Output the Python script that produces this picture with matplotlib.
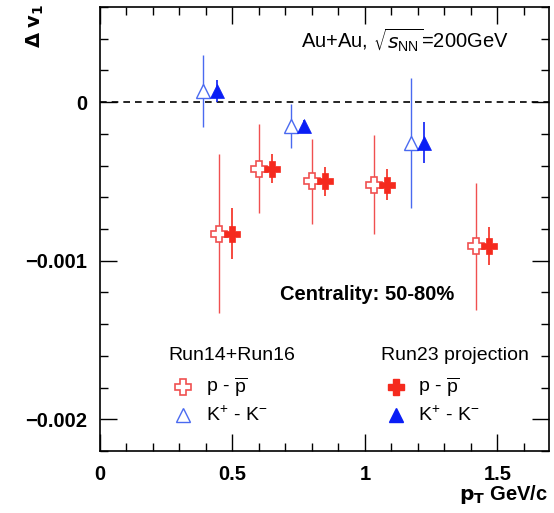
import matplotlib
matplotlib.use("Agg")
import matplotlib.pyplot as plt
from matplotlib.ticker import MultipleLocator, FixedFormatter, FixedLocator

plt.rcParams['font.family'] = ['Liberation Sans', 'DejaVu Sans']

# Run14+Run16 measurements
p_pt_old = [0.45, 0.60, 0.80, 1.035, 1.42]
p_dv1_old = [-0.00083, -0.00042, -0.00050, -0.00052, -0.00091]
p_err_old = [0.00050, 0.00028, 0.00027, 0.00031, 0.00040]
k_pt_old = [0.39, 0.72, 1.175]
k_dv1_old = [0.00007, -0.00015, -0.000255]
k_err_old = [0.000225, 0.00014, 0.00041]

# Run23 projection
p_pt_new = [0.50, 0.65, 0.85, 1.085, 1.47]
p_dv1_new = [-0.00083, -0.00042, -0.00050, -0.00052, -0.00091]
p_err_new = [0.00016, 0.00009, 0.00009, 0.00010, 0.00012]
k_pt_new = [0.443, 0.77, 1.223]
k_dv1_new = [0.00007, -0.00015, -0.000255]
k_err_new = [0.00007, 0.00004, 0.00013]

x_ticks = [0, 0.5, 1, 1.5]
x_tick_labels = ["0", "0.5", "1", "1.5"]
y_ticks = [0, -0.001, -0.002]
y_tick_labels = ["0", "\u22120.001", "\u22120.002"]

fig = plt.figure(figsize=(5.54, 5.13), dpi=100)
ax = fig.add_axes([100/554, 1-451/513, 449/554, 444/513])

red_open = "#f05050"
blue_open = "#4a6af0"
red_fill = "#f52a1e"
blue_fill = "#0a1ef5"

ax.axhline(0, color="black", ls=(0, (4, 3)), lw=1.2, zorder=1)

ax.errorbar(p_pt_old, p_dv1_old, yerr=p_err_old, fmt="P", ms=12,
            mfc="white", mec=red_open, mew=1.2, ecolor=red_open, elinewidth=1.0,
            capsize=0, zorder=3)
ax.errorbar(k_pt_old, k_dv1_old, yerr=k_err_old, fmt="^", ms=10,
            mfc="white", mec=blue_open, mew=1.0, ecolor=blue_open, elinewidth=1.0,
            capsize=0, zorder=3)
ax.errorbar(p_pt_new, p_dv1_new, yerr=p_err_new, fmt="P", ms=12,
            mfc=red_fill, mec=red_fill, mew=0.5, ecolor=red_fill, elinewidth=1.2,
            capsize=0, zorder=4)
ax.errorbar(k_pt_new, k_dv1_new, yerr=k_err_new, fmt="^", ms=10,
            mfc=blue_fill, mec=blue_fill, mew=0.5, ecolor=blue_fill, elinewidth=1.2,
            capsize=0, zorder=4)

ax.set_xlim(0, 1.695)
ax.set_ylim(-0.0022, 0.0006)

ax.xaxis.set_major_locator(FixedLocator(x_ticks))
ax.xaxis.set_major_formatter(FixedFormatter(x_tick_labels))
ax.xaxis.set_minor_locator(MultipleLocator(0.1))
ax.yaxis.set_major_locator(FixedLocator(y_ticks))
ax.yaxis.set_major_formatter(FixedFormatter(y_tick_labels))
ax.yaxis.set_minor_locator(MultipleLocator(0.0002))

ax.tick_params(which="both", direction="in", top=True, right=True, width=1.0)
ax.tick_params(which="major", length=12, labelsize=14.5)
ax.tick_params(axis="x", which="major", pad=10)
ax.tick_params(axis="y", which="major", pad=9)
ax.tick_params(which="minor", length=6)
for lab in ax.get_xticklabels() + ax.get_yticklabels():
    lab.set_fontweight("bold")
for s in ax.spines.values():
    s.set_linewidth(1.2)

fig.text(35/554, 1-26/513, r"$\mathbf{\Delta}$ $\mathbf{v_1}$", rotation=90,
         fontsize=14, fontweight="bold", ha="center", va="center")
fig.text(548/554, 1-495/513, r"$\mathbf{p_T}$ GeV/c", fontsize=14.5,
         fontweight="bold", ha="right", va="center")

ax.text(0.909, 0.925, r"Au+Au, $\sqrt{s_\mathregular{NN}}$=200GeV",
        transform=ax.transAxes, ha="right", va="center", fontsize=14.5)
ax.text(0.788, 0.353, "Centrality: 50-80%", transform=ax.transAxes,
        ha="right", va="center", fontsize=14.5, fontweight="bold")

# legend blocks
ax.text(0.294, 0.214, "Run14+Run16", transform=ax.transAxes, ha="center",
        va="center", fontsize=14)
ax.text(0.791, 0.214, "Run23 projection", transform=ax.transAxes, ha="center",
        va="center", fontsize=14)
rows = [0.144, 0.081]
labels = [r"p - $\overline{\mathregular{p}}$", r"K$^{\mathregular{+}}$ - K$^{\mathregular{-}}$"]
ax.plot([0.185], [rows[0]], "P", ms=12, mfc="white", mec=red_open, mew=1.2,
        transform=ax.transAxes, clip_on=False)
ax.plot([0.185], [rows[1]], "^", ms=10, mfc="white", mec=blue_open, mew=1.0,
        transform=ax.transAxes, clip_on=False)
ax.plot([0.659], [rows[0]], "P", ms=12, mfc=red_fill, mec=red_fill,
        transform=ax.transAxes, clip_on=False)
ax.plot([0.659], [rows[1]], "^", ms=10, mfc=blue_fill, mec=blue_fill,
        transform=ax.transAxes, clip_on=False)
for x0 in (0.236, 0.708):
    for r, lab in zip(rows, labels):
        ax.text(x0, r, lab, transform=ax.transAxes, ha="left", va="center",
                fontsize=14)

fig.savefig("out.png", dpi=100)
